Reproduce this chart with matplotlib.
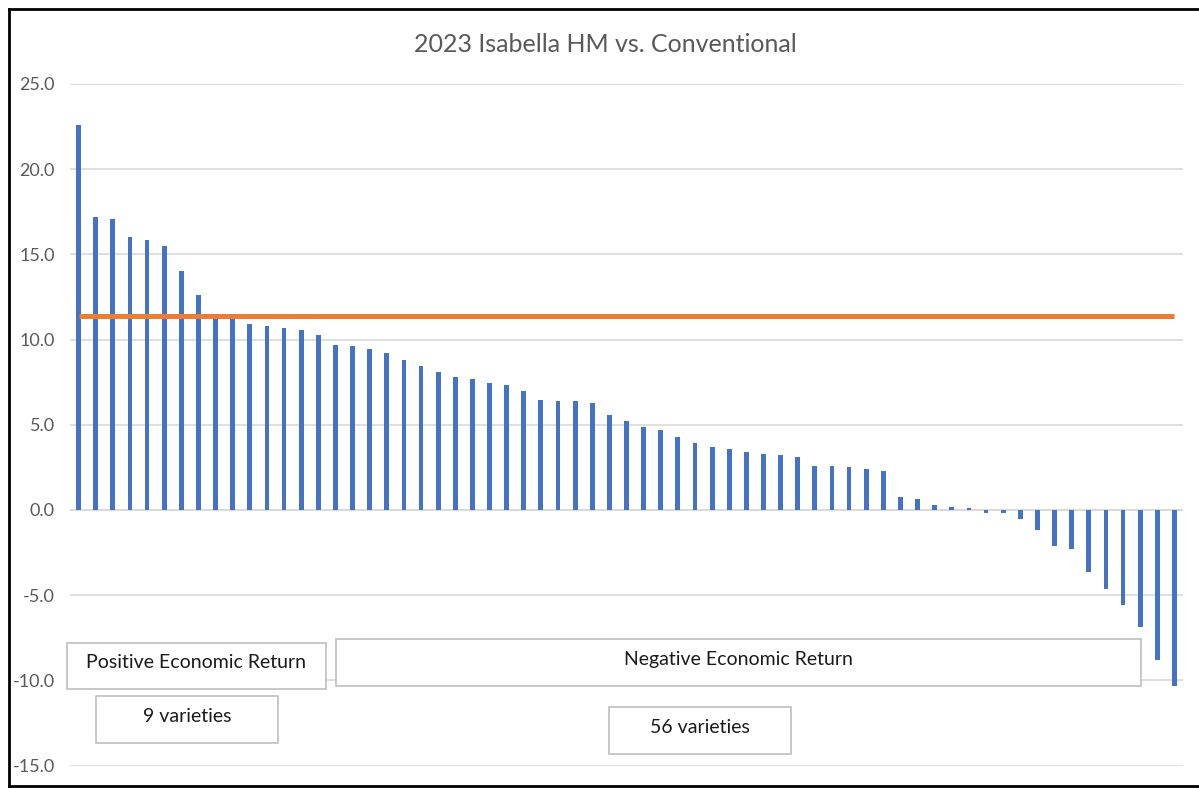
import matplotlib
matplotlib.use('Agg')
import matplotlib.pyplot as plt
from matplotlib.patches import Rectangle
from matplotlib.lines import Line2D
import numpy as np

plt.rcParams['font.family'] = ['Lato', 'DejaVu Sans']

# return per variety, sorted high to low
returns = [22.6, 17.2, 17.05, 16.05, 15.85, 15.5, 14.05, 12.6, 11.3, 11.3,
           10.9, 10.8, 10.7, 10.55, 10.25, 9.7, 9.6, 9.45, 9.2, 8.8,
           8.45, 8.1, 7.8, 7.7, 7.45, 7.35, 7.0, 6.45, 6.4, 6.4,
           6.3, 5.55, 5.2, 4.85, 4.7, 4.3, 3.95, 3.7, 3.6, 3.4,
           3.3, 3.2, 3.1, 2.6, 2.6, 2.5, 2.4, 2.3, 0.75, 0.65,
           0.3, 0.2, 0.1, -0.2, -0.2, -0.5, -1.2, -2.1, -2.3, -3.65,
           -4.65, -5.55, -6.85, -8.8, -10.35]
conventional = 11.4
yticks = [-15, -10, -5, 0, 5, 10, 15, 20, 25]
title = '2023 Isabella HM vs. Conventional'

BLUE = '#4472C4'
ORANGE = '#ED7D31'
GRID = '#D9D9D9'
LABEL = '#595959'

W, H = 1199, 788
fig = plt.figure(figsize=(W/100, H/100), dpi=100)
ax = fig.add_axes([70/W, 1-765.6/H, (1183-70)/W, (765.6-84)/H])

x = np.arange(len(returns))
ax.bar(x, returns, width=0.28, color=BLUE, zorder=2)
ax.plot(x, [conventional]*len(x), color=ORANGE, lw=3.6, zorder=3,
        solid_capstyle='butt')

ax.set_xlim(-0.5, len(x)-0.5)
ax.set_ylim(-15, 25)
ax.set_yticks(yticks)
ax.set_yticklabels(['%.1f' % v for v in yticks])
ax.tick_params(axis='y', length=0, pad=10.8, labelsize=13, labelcolor=LABEL)
ax.set_xticks([])
ax.grid(axis='y', color=GRID, lw=1.2, zorder=0)
ax.axhline(0, color=GRID, lw=1.2, zorder=1)
for s in ax.spines.values():
    s.set_visible(False)

fig.text(605/W, 1-45/H, title, ha='center', va='center', fontsize=18,
         color=LABEL)

# annotation boxes (pixel positions in the screenshot)
boxes = [
    (67, 643, 326, 689, 'Positive Economic Return'),
    (96, 696, 278, 743, '9 varieties'),
    (336, 639, 1141, 686, 'Negative Economic Return'),
    (609, 707, 791, 754, '56 varieties'),
]
for x0, y0, x1, y1, txt in boxes:
    fig.patches.append(Rectangle((x0/W, 1-y1/H), (x1-x0)/W, (y1-y0)/H,
                                 transform=fig.transFigure, facecolor='white',
                                 edgecolor='#BFBFBF', lw=1.2, zorder=5))
    fig.text((x0+x1)/2/W, 1-((y0+y1)/2-3)/H, txt, ha='center', va='center',
             fontsize=14, color='#1a1a1a', zorder=6)

# black frame of the screenshot (left, top, bottom)
for xs, ys in [((9, 9), (9, 786)), ((9, W), (9, 9)), ((9, W), (786, 786))]:
    fig.lines.append(Line2D([v/W for v in xs], [1-v/H for v in ys],
                            transform=fig.transFigure, color='black', lw=2))

fig.savefig('out.png', dpi=100)
